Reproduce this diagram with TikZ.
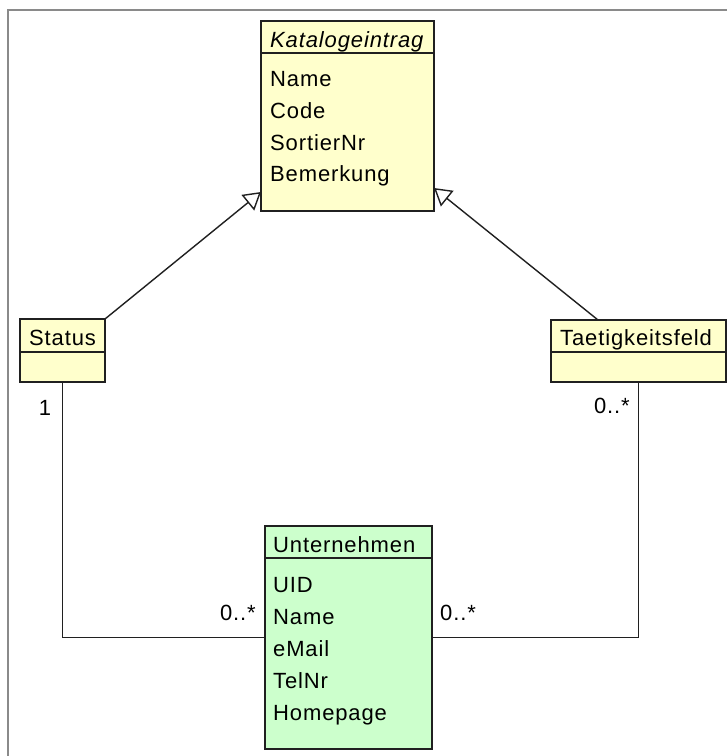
\documentclass[tikz,border=0pt]{standalone}
\usepackage{fontspec}
\setmainfont[LetterSpace=4]{Liberation Sans}
\usetikzlibrary{arrows.meta}
\definecolor{classyellow}{HTML}{FFFFCC}
\definecolor{classgreen}{HTML}{CCFFCC}
\definecolor{framegray}{HTML}{8A8A8A}
\definecolor{linedark}{HTML}{202020}
\begin{document}
\begin{tikzpicture}[x=1pt,y=-1pt,
  classbox/.style={draw=linedark,line width=1.6pt,anchor=north west,inner sep=0pt,outer sep=0pt},
  divider/.style={draw=linedark,line width=1.6pt},
  txt/.style={anchor=base west,inner sep=0pt,font=\fontsize{22}{26}\selectfont},
  lbl/.style={inner sep=0pt,font=\fontsize{22}{26}\selectfont},
  assoc/.style={draw=linedark,line width=1.5pt},
  gen/.style={draw=linedark,line width=1.4pt,-{Triangle[open,length=17pt,width=20pt,line width=1.4pt]}}]
\useasboundingbox (0,0) rectangle (727,756);
\fill[white] (0,0) rectangle (727,756);
\draw[framegray,line width=2pt] (8,756) -- (8,10) -- (727,10);

% class boxes
\node[classbox,fill=classyellow,minimum width=173pt,minimum height=190pt] (kat) at (261,21) {};
\node[classbox,fill=classyellow,minimum width=85pt,minimum height=63pt] (status) at (20,319) {};
\node[classbox,fill=classyellow,minimum width=175pt,minimum height=62pt] (tae) at (551,320) {};
\node[classbox,fill=classgreen,minimum width=167pt,minimum height=223pt] (unt) at (265,526) {};

% dividers
\draw[divider] ([yshift=-32pt]kat.north west) -- ([yshift=-32pt]kat.north east);
\draw[divider] ([yshift=-33pt]status.north west) -- ([yshift=-33pt]status.north east);
\draw[divider] ([yshift=-32pt]tae.north west) -- ([yshift=-32pt]tae.north east);
\draw[divider] ([yshift=-32pt]unt.north west) -- ([yshift=-32pt]unt.north east);

% texts
\node[txt] (katT) at (270,47) {\itshape Katalogeintrag};
\node[txt] (katA1) at (270,86) {Name};
\node[txt] (katA2) at (270,118) {Code};
\node[txt] (katA3) at (270,150) {SortierNr};
\node[txt] (katA4) at (270,181) {Bemerkung};

\node[txt] (statusT) at (29,345) {Status};
\node[txt] (taeT) at (560,345) {Taetigkeitsfeld};

\node[txt] (untT) at (273,552) {Unternehmen};
\node[txt] (untA1) at (273,592) {UID};
\node[txt] (untA2) at (273,624) {Name};
\node[txt] (untA3) at (273,656) {eMail};
\node[txt] (untA4) at (273,688) {TelNr};
\node[txt] (untA5) at (273,720) {Homepage};

% generalizations
\draw[gen] (status.north east) -- ([yshift=19pt]kat.south west);
\draw[gen] ([xshift=-40.5pt]tae.north) -- ([yshift=23pt]kat.south east);

% associations
\draw[assoc] (status.south) |- (unt.west);
\draw[assoc] (tae.south) |- (unt.east);

% multiplicities
\node[lbl,anchor=base] (m1) at (45,415) {1};
\node[lbl,anchor=base east] (m2) at (630,413) {0..*};
\node[lbl,anchor=base east] (m3) at (256,620) {0..*};
\node[lbl,anchor=base west] (m4) at (440,620) {0..*};
\end{tikzpicture}
\end{document}
